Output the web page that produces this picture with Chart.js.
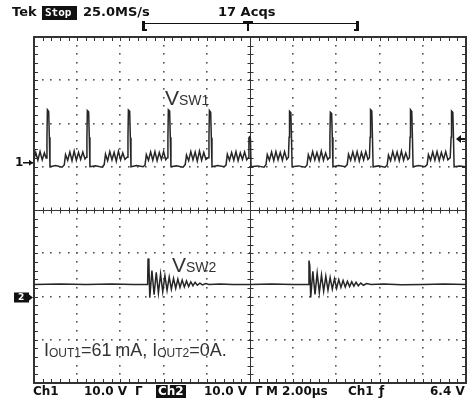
<!DOCTYPE html>
<html>
<head>
<meta charset="utf-8">
<script src="https://cdn.jsdelivr.net/npm/chart.js@4.4.0/dist/chart.umd.min.js"></script>
<style>
  html, body { margin: 0; padding: 0; background: #fff; }
</style>
</head>
<body>
<canvas id="scope" width="475" height="399"></canvas>
<script>
// time base: 2 us/div, 10 divisions
const timeRange = [0, 20]
// Ch1 10 V/div, ground one division above centre
const ch1Range = [-50, 30]
// Ch2 10 V/div, ground two divisions below centre
const ch2Range = [-20, 60]

// Ch1 (VSW1) trace, [us, V]
const ch1Trace = [
  [0.00,1.8],[0.08,3.3],[0.18,1.5],[0.28,3.5],[0.38,1.6],[0.48,3.2],[0.56,2.0],
  [0.60,6.8],[0.62,13.2],[0.68,12.8],[0.71,6.8],[0.74,0.0],[1.00,0.3],[1.30,-0.1],[1.40,0.4],
  [1.46,2.8],[1.56,1.5],[1.66,3.4],[1.76,1.4],[1.86,3.6],[1.96,1.5],[2.06,3.3],[2.16,1.7],[2.26,3.4],[2.36,1.8],[2.42,2.2],
  [2.45,6.8],[2.47,13.0],[2.53,12.7],[2.56,6.8],[2.59,0.0],[2.85,0.2],[3.15,-0.1],[3.25,0.5],
  [3.31,2.9],[3.41,1.4],[3.51,3.5],[3.61,1.6],[3.71,3.3],[3.81,1.3],[3.91,3.6],[4.01,1.6],[4.11,3.2],[4.21,1.7],[4.31,2.2],
  [4.35,6.8],[4.37,13.1],[4.43,12.8],[4.46,6.7],[4.49,0.0],[4.75,0.3],[5.05,0.0],[5.14,0.4],
  [5.20,2.8],[5.30,1.5],[5.40,3.4],[5.50,1.5],[5.60,3.5],[5.70,1.4],[5.80,3.3],[5.90,1.7],[6.00,3.5],[6.10,1.6],[6.17,2.1],
  [6.20,6.8],[6.22,13.2],[6.28,12.9],[6.31,6.8],[6.34,0.0],[6.60,0.2],[6.90,-0.1],[7.00,0.5],
  [7.06,2.7],[7.16,1.4],[7.26,3.5],[7.36,1.6],[7.46,3.4],[7.56,1.3],[7.66,3.6],[7.76,1.5],[7.86,3.3],[7.96,1.7],[8.06,2.1],
  [8.10,6.8],[8.12,13.0],[8.18,12.6],[8.21,6.7],[8.24,0.0],[8.50,0.3],[8.80,0.0],[8.89,0.4],
  [8.95,2.9],[9.05,1.5],[9.15,3.3],[9.25,1.5],[9.35,3.5],[9.45,1.4],[9.55,3.2],[9.65,1.7],[9.75,3.4],[9.85,1.6],[9.92,2.1],
  [9.95,6.7],[9.98,6.9],[10.02,6.5],[10.05,0.0],[10.35,0.2],[10.65,-0.1],[10.74,0.5],
  [10.80,2.8],[10.90,1.5],[11.00,3.4],[11.10,1.4],[11.20,3.5],[11.30,1.6],[11.40,3.3],[11.50,1.5],[11.60,3.5],[11.70,1.7],[11.78,2.2],
  [11.81,6.8],[11.83,12.8],[11.89,12.5],[11.92,6.8],[11.95,0.0],[12.25,0.2],[12.55,-0.1],[12.64,0.4],
  [12.70,2.8],[12.80,1.4],[12.90,3.5],[13.00,1.6],[13.10,3.3],[13.20,1.4],[13.30,3.6],[13.40,1.5],[13.50,3.2],[13.60,1.7],[13.67,2.1],
  [13.70,6.8],[13.72,12.6],[13.78,12.3],[13.81,6.8],[13.84,0.0],[14.10,0.3],[14.40,0.0],[14.50,0.5],
  [14.56,2.9],[14.66,1.5],[14.76,3.4],[14.86,1.5],[14.96,3.5],[15.06,1.3],[15.16,3.3],[15.26,1.6],[15.36,3.5],[15.46,1.7],[15.53,2.1],
  [15.56,6.8],[15.58,13.2],[15.64,12.9],[15.67,6.7],[15.70,0.0],[15.95,0.2],[16.25,-0.1],[16.35,0.4],
  [16.41,2.7],[16.51,1.4],[16.61,3.5],[16.71,1.6],[16.81,3.4],[16.91,1.4],[17.01,3.6],[17.11,1.5],[17.21,3.2],[17.31,1.7],[17.38,2.1],
  [17.41,6.8],[17.43,13.2],[17.49,12.8],[17.52,6.8],[17.55,0.0],[17.80,0.3],[18.10,0.0],[18.20,0.5],
  [18.26,2.8],[18.36,1.5],[18.46,3.4],[18.56,1.5],[18.66,3.5],[18.76,1.4],[18.86,3.3],[18.96,1.7],[19.06,3.5],[19.16,1.6],[19.27,2.1],
  [19.31,6.8],[19.33,12.9],[19.39,12.6],[19.42,6.8],[19.45,0.0],[19.70,0.2],[20.00,0.0]
]

// Ch2 (VSW2) trace, [us, V]
const ch2Trace = [
  [0.00,2.8],[1.20,2.9],[2.40,2.8],[3.60,2.9],[4.60,2.8],[5.26,2.8],
  [5.28,8.8],[5.32,7.6],[5.36,-0.3],[5.46,6.0],[5.56,0.4],[5.66,5.6],[5.76,0.8],[5.86,5.2],[5.96,1.1],[6.06,4.8],
  [6.16,1.4],[6.26,4.5],[6.36,1.7],[6.46,4.2],[6.56,1.9],[6.66,4.0],[6.76,2.1],[6.86,3.8],[6.96,2.2],[7.06,3.6],
  [7.16,2.3],[7.26,3.4],[7.36,2.5],[7.46,3.3],[7.56,2.6],[7.68,3.1],[7.80,2.7],[7.95,3.0],[8.10,2.8],
  [8.60,2.9],[9.20,2.8],[10.00,2.8],[11.00,2.9],[12.00,2.8],[12.71,2.8],
  [12.73,8.3],[12.77,7.1],[12.81,-0.2],[12.91,5.8],[13.01,0.5],[13.11,5.4],[13.21,0.9],[13.31,5.0],[13.41,1.2],[13.51,4.7],
  [13.61,1.5],[13.71,4.4],[13.81,1.7],[13.91,4.1],[14.01,1.9],[14.11,3.9],[14.21,2.1],[14.31,3.7],[14.41,2.2],[14.51,3.5],
  [14.61,2.3],[14.71,3.4],[14.81,2.4],[14.91,3.3],[15.01,2.5],[15.13,3.1],[15.25,2.6],[15.40,3.0],[15.60,2.8],
  [16.20,2.9],[17.00,2.7],[18.00,2.8],[19.00,2.9],[20.00,2.8]
]

const triggerLevel = 6.4

const ink = '#262626'

// dotted graticule, centre cross and frame, like the scope screen
const graticule = {
  id: 'graticule',
  beforeDatasetsDraw(chart) {
    const {ctx, chartArea: a} = chart
    const xs = chart.scales.x
    const dx = (a.right - a.left) / 10
    const dy = (a.bottom - a.top) / 8
    ctx.save()
    ctx.fillStyle = '#555'
    for (let i = 1; i < 10; i++) {
      if (i === 5) continue
      const x = Math.round(xs.getPixelForValue(i * 2))
      for (let k = 1; k < 40; k++) ctx.fillRect(x - 1, Math.round(a.top + k * dy / 5) - 1, 1.6, 1.6)
    }
    for (let j = 1; j < 8; j++) {
      if (j === 4) continue
      const y = Math.round(a.top + j * dy)
      for (let k = 1; k < 50; k++) ctx.fillRect(Math.round(a.left + k * dx / 5) - 1, y - 1, 1.6, 1.6)
    }
    ctx.strokeStyle = '#333'
    ctx.lineWidth = 1
    const cx = Math.round(xs.getPixelForValue(10)) + 0.5
    const cy = Math.round(a.top + 4 * dy) + 0.5
    ctx.beginPath()
    ctx.moveTo(a.left, cy); ctx.lineTo(a.right, cy)
    ctx.moveTo(cx, a.top); ctx.lineTo(cx, a.bottom)
    for (let k = 1; k < 50; k++) {
      const x = Math.round(a.left + k * dx / 5) + 0.5
      ctx.moveTo(x, cy - 3); ctx.lineTo(x, cy + 3)
      ctx.moveTo(x, a.top); ctx.lineTo(x, a.top + 4)
      ctx.moveTo(x, a.bottom); ctx.lineTo(x, a.bottom - 4)
    }
    for (let k = 1; k < 40; k++) {
      const y = Math.round(a.top + k * dy / 5) + 0.5
      ctx.moveTo(cx - 3, y); ctx.lineTo(cx + 3, y)
      ctx.moveTo(a.left, y); ctx.lineTo(a.left + 4, y)
      ctx.moveTo(a.right, y); ctx.lineTo(a.right - 4, y)
    }
    ctx.stroke()
    ctx.lineWidth = 2
    ctx.strokeStyle = '#333'
    ctx.strokeRect(a.left, a.top, a.right - a.left, a.bottom - a.top)
    ctx.restore()
  }
}

function subText(ctx, x, y, parts) {
  // parts: [text, size, dy]
  for (const [t, size, off] of parts) {
    ctx.font = size + 'px "Liberation Sans", Arial, sans-serif'
    ctx.fillText(t, x, y + off)
    x += ctx.measureText(t).width
  }
}

const screenText = {
  id: 'screenText',
  afterDraw(chart) {
    const {ctx} = chart
    ctx.save()
    ctx.textBaseline = 'middle'
    ctx.textAlign = 'left'
    ctx.fillStyle = '#111'
    const bold = 'bold 13px "DejaVu Sans", sans-serif'
    const boldS = 'bold 12px "DejaVu Sans", sans-serif'

    // top status line
    ctx.font = bold
    ctx.fillText('Tek', 12, 13)
    ctx.fillRect(42, 6, 35, 14)
    ctx.fillStyle = '#fff'
    ctx.font = 'bold 11px "DejaVu Sans Mono", monospace'
    ctx.fillText('Stop', 45, 13)
    ctx.fillStyle = '#111'
    ctx.font = bold
    ctx.fillText('25.0MS/s', 83, 13)
    ctx.fillText('17 Acqs', 218, 13)

    // record bracket with trigger position
    ctx.lineWidth = 1
    ctx.strokeStyle = '#111'
    ctx.beginPath()
    ctx.moveTo(145, 23.5); ctx.lineTo(357, 23.5)
    ctx.stroke()
    ctx.fillRect(142, 21, 3, 10)
    ctx.fillRect(142, 29, 5, 2)
    ctx.fillRect(356, 21, 3, 10)
    ctx.fillRect(354, 29, 5, 2)
    ctx.fillRect(243, 21, 10, 3)
    ctx.fillRect(247, 21, 2, 10)

    // bottom settings line
    ctx.font = boldS
    ctx.fillText('Ch1', 33, 392)
    ctx.fillText('10.0 V', 84, 392)
    ctx.fillText('\u0393', 135, 392)
    ctx.fillRect(156, 385, 30, 13)
    ctx.fillStyle = '#fff'
    ctx.fillText('Ch2', 158, 392)
    ctx.fillStyle = '#111'
    ctx.fillText('10.0 V', 204, 392)
    ctx.fillText('\u0393', 255, 392)
    ctx.fillText('M 2.00\u00b5s', 266, 392)
    ctx.fillText('Ch1', 348, 392)
    ctx.fillText('\u0192', 379, 392)
    ctx.fillText('6.4 V', 430, 392)

    // channel ground markers
    const y1 = chart.scales.y1.getPixelForValue(0)
    const y2 = chart.scales.y2.getPixelForValue(0)
    ctx.font = 'bold 12px "DejaVu Sans", sans-serif'
    ctx.fillText('1', 15, y1 - 4)
    ctx.lineWidth = 1.5
    ctx.beginPath()
    ctx.moveTo(23, y1 - 4); ctx.lineTo(33, y1 - 4)
    ctx.stroke()
    ctx.beginPath()
    ctx.moveTo(33, y1 - 4); ctx.lineTo(29, y1 - 7); ctx.lineTo(29, y1 - 1); ctx.closePath(); ctx.fill()
    ctx.fillRect(14, y2 - 4, 15, 10)
    ctx.fillStyle = '#fff'
    ctx.font = 'bold 9px "DejaVu Sans", sans-serif'
    ctx.fillText('2', 18, y2 + 1)
    ctx.fillStyle = '#111'
    ctx.beginPath()
    ctx.moveTo(33, y2 + 1); ctx.lineTo(29, y2 - 2); ctx.lineTo(29, y2 + 4); ctx.closePath(); ctx.fill()

    // trigger level arrow on the right edge
    const yt = chart.scales.y1.getPixelForValue(triggerLevel)
    ctx.beginPath()
    ctx.moveTo(456, yt); ctx.lineTo(461, yt - 4); ctx.lineTo(461, yt + 4); ctx.closePath(); ctx.fill()
    ctx.fillRect(460, yt - 1, 5, 2)

    // annotations
    ctx.fillStyle = '#333'
    ctx.textBaseline = 'alphabetic'
    subText(ctx, 165, 105, [['V', 21, 0], ['SW1', 14, 0]])
    subText(ctx, 172, 272, [['V', 21, 0], ['SW2', 14, 0]])
    subText(ctx, 44, 356, [['I', 18, 0], ['OUT1', 12, 1], ['=61\u2009mA, I', 18, 0], ['OUT2', 12, 1], ['=0A.', 18, 0]])
    ctx.restore()
  }
}

const toPoints = arr => arr.map(([t, v]) => ({x: t, y: v}))

const config = {
  type: 'line',
  data: {
    datasets: [
      {
        label: 'VSW1',
        data: toPoints(ch1Trace),
        yAxisID: 'y1',
        borderColor: ink,
        borderWidth: 1.5,
        pointRadius: 0,
        tension: 0,
      },
      {
        label: 'VSW2',
        data: toPoints(ch2Trace),
        yAxisID: 'y2',
        borderColor: ink,
        borderWidth: 1.5,
        pointRadius: 0,
        tension: 0,
      },
    ],
  },
  options: {
    responsive: false,
    animation: false,
    events: [],
    layout: { padding: { left: 34, right: 9, top: 37, bottom: 16 } },
    plugins: { legend: { display: false }, tooltip: { enabled: false } },
    scales: {
      x: { type: 'linear', min: timeRange[0], max: timeRange[1], display: false },
      y1: { type: 'linear', min: ch1Range[0], max: ch1Range[1], display: false },
      y2: { type: 'linear', min: ch2Range[0], max: ch2Range[1], display: false },
    },
  },
  plugins: [graticule, screenText],
}

const scopeChart = new Chart(document.getElementById('scope'), config)
</script>
</body>
</html>
